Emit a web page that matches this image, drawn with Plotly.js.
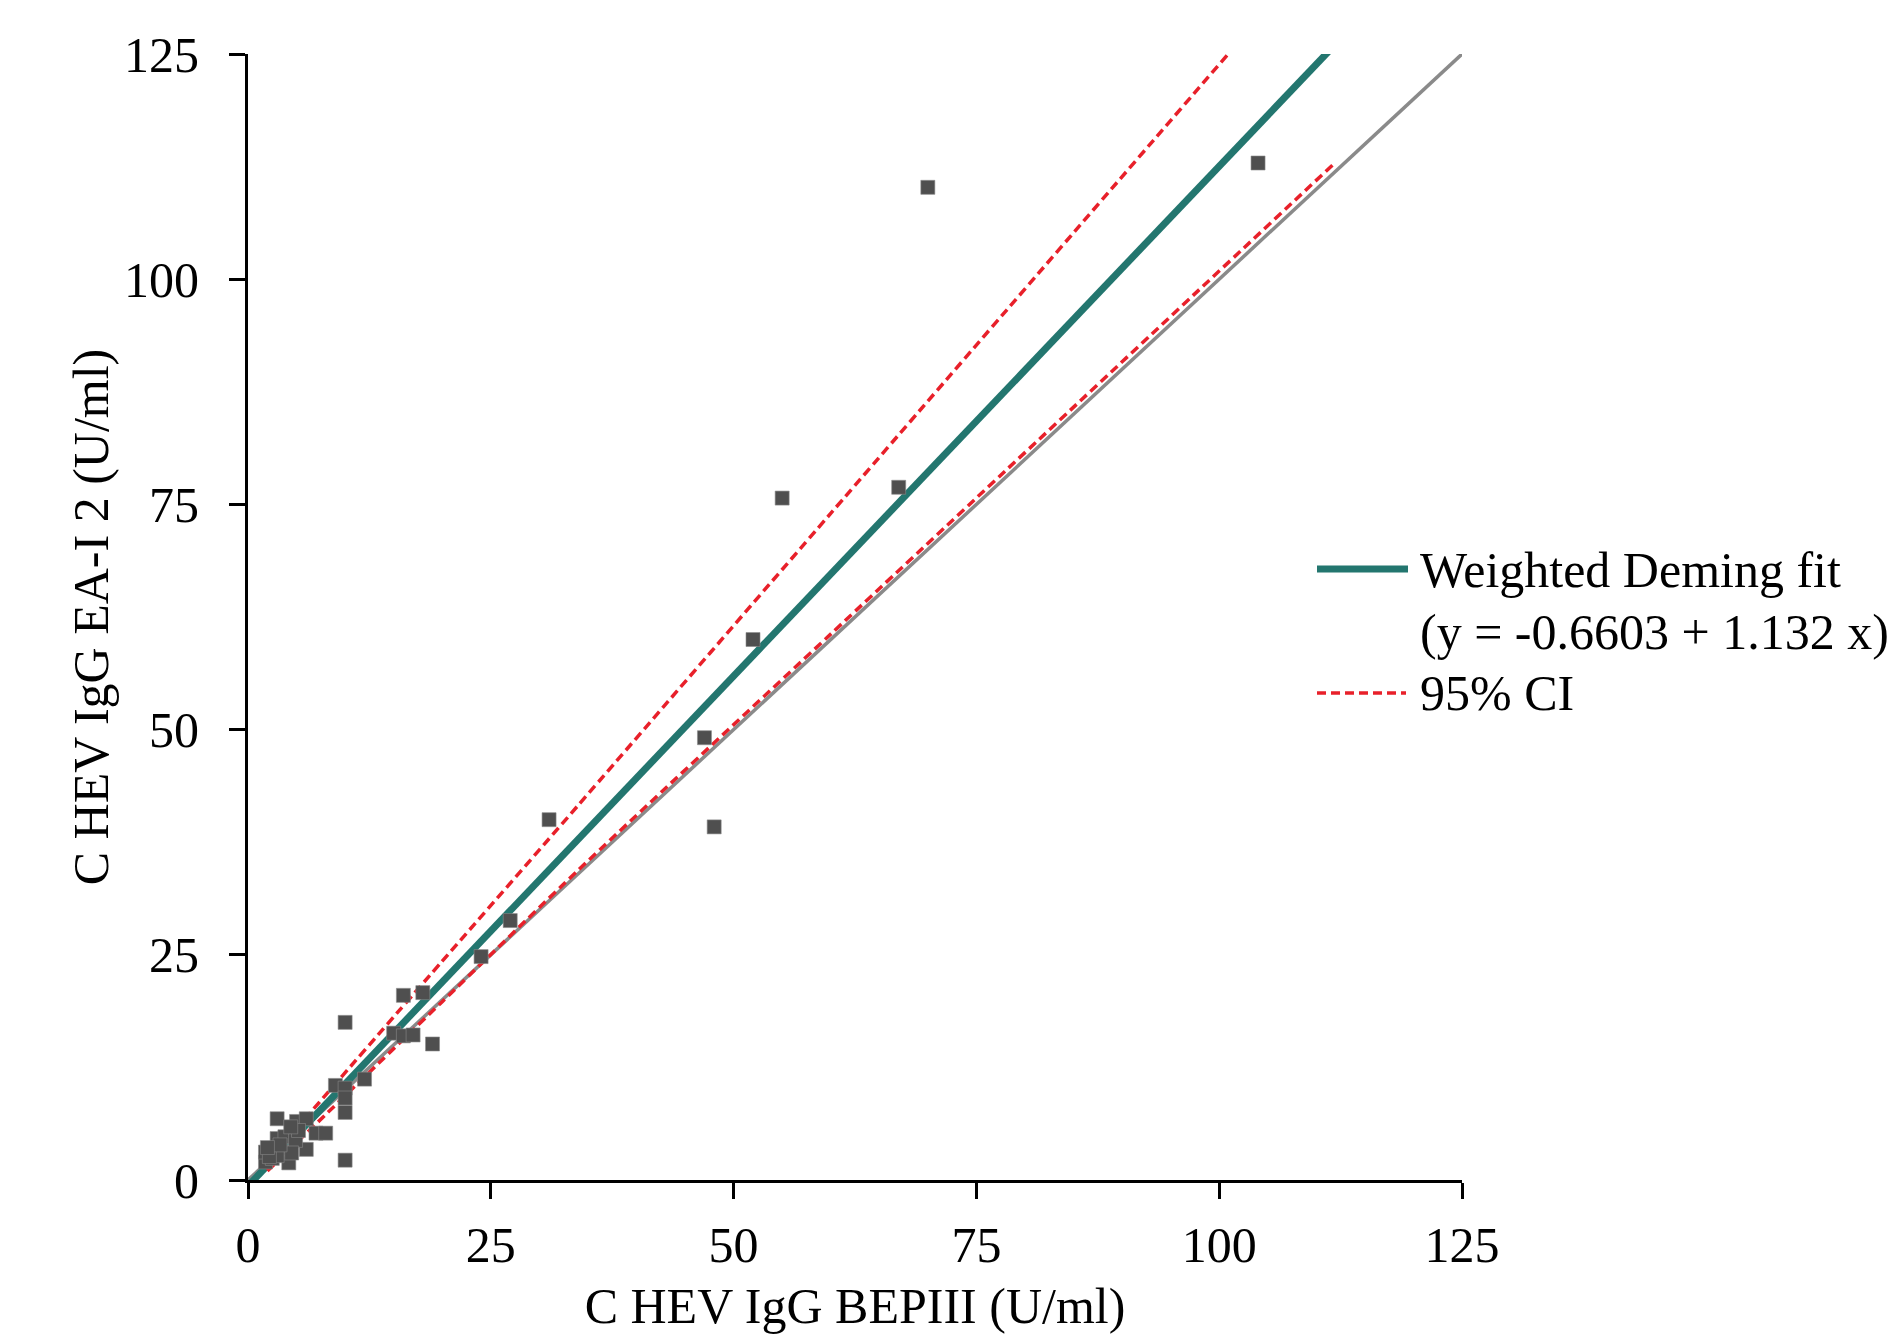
<!DOCTYPE html>
<html>
<head>
<meta charset="utf-8">
<script src="https://cdn.plot.ly/plotly-3.0.1.min.js"></script>
<style>
html,body{margin:0;padding:0;background:#ffffff;}
#chart{width:1895px;height:1334px;}
</style>
</head>
<body>
<div id="chart"></div>
<script>
// ---- data ----
const bepX = [104, 70, 55, 67, 52, 47, 48, 31, 27, 24,
              16, 18, 10, 15, 16, 17, 19, 12, 9, 10, 10, 10, 10,
              7, 8, 6, 3, 5, 6,
              1.8, 1.8, 2.5, 2.8, 3.0, 3.8, 3.8, 4.2, 4.9, 5.2, 3.0, 2.2, 4.5, 3.3, 4.4, 2.0];
const eaY  = [112.9, 110.2, 75.7, 76.9, 60.0, 49.1, 39.2, 40.0, 28.8, 24.8,
              20.5, 20.8, 17.5, 16.3, 16.0, 16.1, 15.1, 11.2, 10.5, 10.2, 9.1, 7.5, 2.2,
              5.2, 5.2, 3.4, 6.8, 6.5, 6.8,
              2.0, 3.1, 2.4, 3.5, 4.6, 4.8, 3.1, 1.9, 4.4, 5.5, 2.7, 2.6, 3.0, 3.9, 5.9, 3.6];

const fitIntercept = -0.6603;
const fitSlope = 1.132;
const fitX = [0, 125];

const ciX     = [2, 20, 34, 60, 112];
const ciUpper = [2.0, 24.3, 41.6, 74.0, 138.8];
const ciLower = [1.0, 19.8, 34.4, 60.6, 113.0];

const identityX = [0, 125];
const identityY = [0, 125];

const tickValues = [0, 25, 50, 75, 100, 125];
const tickLabels = ['0', '25', '50', '75', '100', '125'];

const xTitle = 'C HEV IgG BEPIII (U/ml)';
const yTitle = 'C HEV IgG EA-I 2 (U/ml)';
const legendFit = 'Weighted Deming fit';
const legendEq = '(y = -0.6603 + 1.132 x)';
const legendCI = '95% CI';

// ---- styling ----
const FONT = 'Liberation Serif, Times New Roman, serif';
const FS = 50;
const TEAL = '#23766f';
const RED = '#e8202a';
const GREY = '#8a8a8a';
const PT = '#4f4f4f';

const fitY = fitX.map(x => fitIntercept + fitSlope * x);

const traces = [
  {x: identityX, y: identityY, mode: 'lines', line: {color: GREY, width: 3.5}, hoverinfo: 'skip', showlegend: false},
  {x: fitX, y: fitY, mode: 'lines', line: {color: TEAL, width: 7}, name: legendFit, showlegend: false},
  {x: ciX, y: ciUpper, mode: 'lines', line: {color: RED, width: 3.5, dash: '9px,5px', shape: 'spline', smoothing: 0.6}, name: legendCI, showlegend: false},
  {x: ciX, y: ciLower, mode: 'lines', line: {color: RED, width: 3.5, dash: '9px,5px', shape: 'spline', smoothing: 0.6}, name: legendCI, showlegend: false},
  {x: bepX, y: eaY, mode: 'markers', marker: {symbol: 'square', size: 14, color: PT, line: {width: 0.6, color: '#8a8a8a'}}, showlegend: false}
];

const L = 248, R = 1462, T = 54, B = 1180;
const px2x = p => (p - L) / (R - L);
const px2y = p => (B - p) / (B - T);

const axisCommon = {
  range: [0, 125],
  tickvals: tickValues,
  ticktext: tickLabels,
  showline: true, linecolor: '#000', linewidth: 3,
  ticks: 'outside', ticklen: 16, tickwidth: 3, tickcolor: '#000',
  showgrid: false, zeroline: false,
  tickfont: {family: FONT, size: FS, color: '#000'},
  fixedrange: true
};

const layout = {
  width: 1895, height: 1334,
  paper_bgcolor: '#fff', plot_bgcolor: '#fff',
  margin: {l: L, r: 1895 - R, t: T, b: 1334 - B, pad: 0},
  showlegend: false,
  xaxis: Object.assign({}, axisCommon, {
    title: {text: xTitle, font: {family: FONT, size: FS, color: '#000'}, standoff: 24},
    ticklabelstandoff: 3
  }),
  yaxis: Object.assign({}, axisCommon, {
    title: {text: yTitle, font: {family: FONT, size: FS, color: '#000'}, standoff: 0},
    ticklabelstandoff: 20
  }),
  shapes: [
    {type: 'line', xref: 'paper', yref: 'paper', x0: px2x(1317), x1: px2x(1408), y0: px2y(569), y1: px2y(569),
     line: {color: TEAL, width: 7}},
    {type: 'line', xref: 'paper', yref: 'paper', x0: px2x(1317), x1: px2x(1406), y0: px2y(693), y1: px2y(693),
     line: {color: RED, width: 3.5, dash: '9px,5px'}}
  ],
  annotations: [
    {xref: 'paper', yref: 'paper', x: px2x(1418), y: px2y(570), xanchor: 'left', yanchor: 'middle', showarrow: false,
     text: legendFit, font: {family: FONT, size: FS, color: '#000'}},
    {xref: 'paper', yref: 'paper', x: px2x(1418), y: px2y(632), xanchor: 'left', yanchor: 'middle', showarrow: false,
     text: legendEq, font: {family: FONT, size: FS, color: '#000'}},
    {xref: 'paper', yref: 'paper', x: px2x(1418), y: px2y(693), xanchor: 'left', yanchor: 'middle', showarrow: false,
     text: legendCI, font: {family: FONT, size: FS, color: '#000'}}
  ]
};

Plotly.newPlot('chart', traces, layout, {displayModeBar: false, staticPlot: true});
</script>
</body>
</html>
